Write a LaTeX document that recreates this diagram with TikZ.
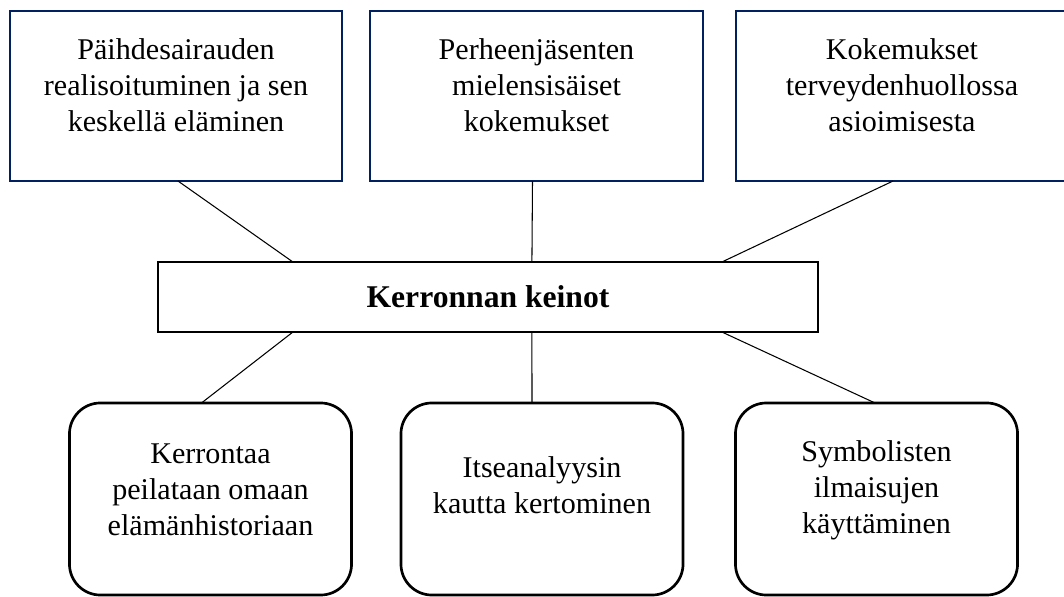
\documentclass[tikz,border=0pt]{standalone}
\usepackage{fontspec}
\setmainfont{Liberation Serif}
\usetikzlibrary{calc}
\definecolor{boxnavy}{RGB}{0,32,96}

\begin{document}
\begin{tikzpicture}[x=.025cm, y=-.025cm,
	topbox/.style={draw=boxnavy, line width=1.4pt, minimum width=8.3cm, minimum height=4.25cm, outer sep=0pt},
	midbox/.style={draw=black, line width=1.1pt, minimum width=16.5cm, minimum height=1.75cm, outer sep=0pt, font=\fontsize{22.5}{27}\selectfont\bfseries},
	botbox/.style={draw=black, line width=1.9pt, rounded corners=22pt, minimum width=7.05cm, minimum height=4.8cm, outer sep=0pt},
	txt/.style={align=center, inner sep=0pt, font=\fontsize{21.4}{25.6}\selectfont},
	link/.style={draw=black, line width=.75pt}]
	\useasboundingbox (0,0) rectangle (1064,597);
	\node[topbox] (t1)  at (176,96)   {};
	\node[topbox] (t2)  at (536.5,96) {};
	\node[topbox] (t3)  at (902,96)   {};
	\node[midbox] (mid) at (488,297)  {Kerronnan keinot};
	\node[botbox] (b1)  at (210.5,499) {};
	\node[botbox] (b2)  at (542,499)   {};
	\node[botbox] (b3)  at (876.5,499) {};
	\node[txt] (t1txt) at ($(t1)+(0,-11)$) {Päihdesairauden\\realisoituminen ja sen\\keskellä eläminen};
	\node[txt] (t2txt) at ($(t2)+(0,-11)$) {Perheenjäsenten\\mielensisäiset\\kokemukset};
	\node[txt] (t3txt) at ($(t3)+(0,-11)$) {Kokemukset\\terveydenhuollossa\\asioimisesta};
	\node[txt] (b1txt) at ($(b1)+(0,-9)$)  {Kerrontaa\\peilataan omaan\\elämänhistoriaan};
	\node[txt] (b2txt) at ($(b2)+(0,-14)$) {Itseanalyysin\\kautta kertominen};
	\node[txt] (b3txt) at ($(b3)+(0,-9)$)  {Symbolisten\\ilmaisujen\\käyttäminen};
	% lines to the middle box
	\draw[link] ($(t1.south)+(2,0)$)  -- ($(mid.north west)+(135,0)$);
	\draw[link] ($(t2.south)+(-4,0)$) -- ($(mid.north west)+(374,0)$);
	\draw[link] ($(t3.south)+(-9,0)$) -- ($(mid.north west)+(564,0)$);
	\draw[link] ($(mid.south west)+(135,0)$) -- ($(b1.north)+(-9,0)$);
	\draw[link] ($(mid.south west)+(374,0)$) -- ($(b2.north)+(-10,0)$);
	\draw[link] ($(mid.south west)+(564,0)$) -- ($(b3.north)+(-1.5,0)$);
\end{tikzpicture}
\end{document}
